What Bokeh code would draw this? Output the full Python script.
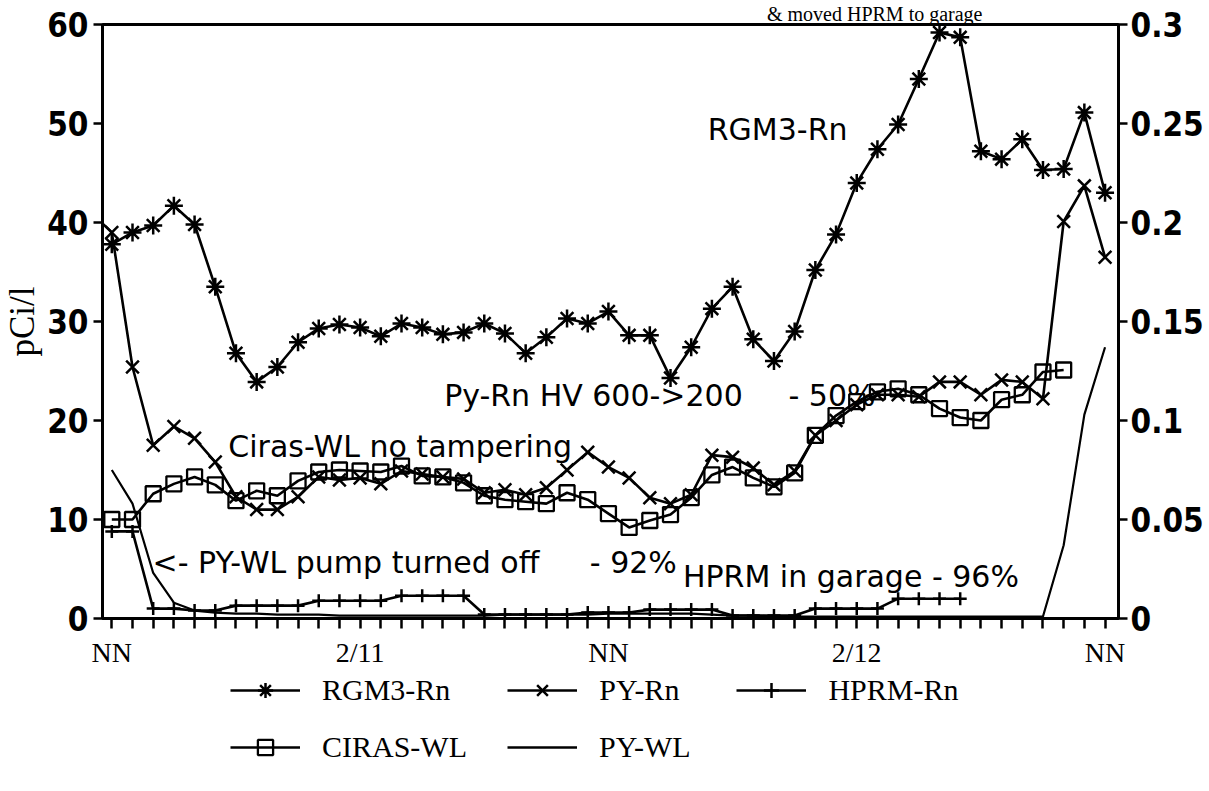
from bokeh.plotting import figure
from bokeh.layouts import column
from bokeh.models import Range1d, LinearAxis, FixedTicker, Label, Legend, LegendItem
from bokeh.embed import file_html
from bokeh.resources import INLINE

# ---------------- data ----------------
hours_rgm3 = list(range(0, 49))
rgm3_rn = [37.8, 39.0, 39.7, 41.7, 39.8, 33.5, 26.8, 23.9, 25.4, 27.9,
           29.3, 29.7, 29.4, 28.5, 29.8, 29.4, 28.7, 28.9, 29.8, 28.8,
           26.8, 28.4, 30.3, 29.8, 31.0, 28.6, 28.6, 24.3, 27.4, 31.3,
           33.5, 28.2, 26.0, 29.0, 35.2, 38.8, 44.0, 47.4, 49.9, 54.5,
           59.2, 58.7, 47.2, 46.4, 48.4, 45.3, 45.4, 51.1, 43.0]

hours_py_rn = list(range(-1, 49))
py_rn = [41.0, 39.0, 25.4, 17.5, 19.4, 18.2, 15.8, 12.3, 11.0, 11.0,
         12.3, 14.3, 14.0, 14.2, 13.6, 14.9, 14.6, 14.3, 14.1, 12.7,
         13.0, 12.5, 13.2, 15.0, 16.8, 15.3, 14.2, 12.2, 11.6, 12.5,
         16.5, 16.3, 15.2, 13.5, 14.9, 18.5, 20.0, 21.6, 22.6, 22.6,
         22.4, 23.9, 23.9, 22.6, 24.1, 23.9, 22.2, 40.1, 43.7, 36.5]

hours_hprm = list(range(0, 42))
hprm_rn = [8.8, 8.8, 1.0, 1.0, 0.8, 0.8, 1.3, 1.3, 1.3, 1.3,
           1.8, 1.8, 1.8, 1.8, 2.3, 2.3, 2.3, 2.3, 0.4, 0.4,
           0.4, 0.4, 0.4, 0.6, 0.6, 0.6, 0.9, 0.9, 0.9, 0.9,
           0.3, 0.3, 0.3, 0.3, 1.0, 1.0, 1.0, 1.0, 2.0, 2.0,
           2.0, 2.0]

hours_ciras = list(range(0, 47))
ciras_wl = [0.050, 0.050, 0.063, 0.068, 0.0715, 0.0675, 0.0595, 0.0645, 0.062, 0.0695,
            0.074, 0.075, 0.0745, 0.074, 0.077, 0.072, 0.0715, 0.0685, 0.062, 0.060,
            0.059, 0.058, 0.0635, 0.060, 0.053, 0.046, 0.0495, 0.0525, 0.061, 0.0725,
            0.0765, 0.071, 0.0665, 0.0735, 0.0925, 0.1025, 0.1095, 0.1145, 0.116, 0.113,
            0.106, 0.1015, 0.100, 0.1105, 0.113, 0.1245, 0.1255]

hours_py_wl = list(range(0, 49))
py_wl = [0.075, 0.058, 0.023, 0.008, 0.004, 0.003, 0.0025, 0.0025, 0.002, 0.002,
         0.002, 0.0015, 0.0015, 0.0015, 0.0015, 0.0015, 0.0015, 0.0015, 0.0015, 0.002,
         0.002, 0.002, 0.002, 0.002, 0.0025, 0.0025, 0.0025, 0.0025, 0.0025, 0.002,
         0.0015, 0.0015, 0.001, 0.001, 0.001, 0.001, 0.001, 0.001, 0.001, 0.001,
         0.001, 0.001, 0.001, 0.001, 0.001, 0.001, 0.037, 0.103, 0.137]

all_hours = list(range(0, 49))
tick_hours = [0, 12, 24, 36, 48]
tick_labels = ["NN", "2/11", "NN", "2/12", "NN"]
left_ticks = [0, 10, 20, 30, 40, 50, 60]
right_ticks = [0, 0.05, 0.1, 0.15, 0.2, 0.25, 0.3]
right_tick_labels = ["0", "0.05", "0.1", "0.15", "0.2", "0.25", "0.3"]

# ---------------- main figure ----------------
p = figure(width=1206, height=670, output_backend="svg", toolbar_location=None,
           x_range=Range1d(-0.45, 48.65), y_range=Range1d(0, 60),
           min_border_left=100, min_border_right=85, min_border_top=23,
           min_border_bottom=50)
p.extra_y_ranges = {"wl": Range1d(0, 0.3)}
p.xgrid.visible = False
p.ygrid.visible = False
p.outline_line_color = "black"
p.outline_line_width = 3
p.outline_line_alpha = 1
p.background_fill_color = "white"
p.border_fill_color = "white"

TICK_FONT = "Liberation Sans Narrow, DejaVu Sans Condensed, sans-serif"
SERIF = "Liberation Serif"

p.title.text = "& moved HPRM to garage"
p.title.text_font = SERIF
p.title.text_font_size = "20px"
p.title.text_font_style = "normal"
p.title.text_color = "black"
p.title.align = "right"
p.title.offset = 136
p.title.standoff = 0

xa = p.xaxis[0]
xa.ticker = FixedTicker(ticks=all_hours, minor_ticks=[])
ov = {h: "" for h in all_hours}
ov.update(dict(zip(tick_hours, tick_labels)))
xa.major_label_overrides = ov
xa.major_label_text_font = SERIF
xa.major_label_text_font_size = "28px"
xa.major_label_text_color = "black"
xa.major_label_standoff = 8
xa.major_tick_out = 10
xa.major_tick_in = 0
xa.major_tick_line_width = 2.5
xa.axis_line_width = 3

ya = p.yaxis[0]
ya.ticker = FixedTicker(ticks=left_ticks, minor_ticks=[])
ya.major_label_text_font = TICK_FONT
ya.major_label_text_font_style = "bold"
ya.major_label_text_font_size = "33px"
ya.major_label_text_color = "black"
ya.major_label_standoff = 5
ya.major_tick_out = 9
ya.major_tick_in = 0
ya.major_tick_line_width = 2.5
ya.axis_line_width = 3
ya.axis_label = "pCi/l"
ya.axis_label_text_font = SERIF
ya.axis_label_text_font_style = "normal"
ya.axis_label_text_font_size = "35px"
ya.axis_label_text_color = "black"
ya.axis_label_standoff = 2

ra = LinearAxis(y_range_name="wl", ticker=FixedTicker(ticks=right_ticks, minor_ticks=[]))
ra.major_label_overrides = dict(zip(right_ticks, right_tick_labels))
ra.major_label_text_font = TICK_FONT
ra.major_label_text_font_style = "bold"
ra.major_label_text_font_size = "33px"
ra.major_label_text_color = "black"
ra.major_label_standoff = 3
ra.major_tick_out = 9
ra.major_tick_in = 0
ra.major_tick_line_width = 2.5
ra.axis_line_width = 3
p.add_layout(ra, "right")

LW = 2.6
p.line(hours_rgm3, rgm3_rn, line_color="black", line_width=LW)
p.scatter(hours_rgm3, rgm3_rn, marker="asterisk", size=18, line_color="black", line_width=2.5)
p.line(hours_py_rn, py_rn, line_color="black", line_width=LW)
p.scatter(hours_py_rn, py_rn, marker="x", size=18, line_color="black", line_width=2.5)
p.line(hours_hprm, hprm_rn, line_color="black", line_width=LW)
p.scatter(hours_hprm, hprm_rn, marker="cross", size=13, line_color="black", line_width=2.5)
p.line(hours_ciras, ciras_wl, line_color="black", line_width=LW, y_range_name="wl")
p.scatter(hours_ciras, ciras_wl, marker="square", size=15, line_color="black",
          fill_alpha=0, line_width=2.3, y_range_name="wl")
p.line(hours_py_wl, py_wl, line_color="black", line_width=2.2, y_range_name="wl")

# ---------------- annotations ----------------
ANN_FONT = "DejaVu Sans"
ann = [
    ("RGM3-Rn", 28.8, 49.4),
    ("Py-Rn HV 600->200", 16.06, 22.5),
    ("- 50%", 32.7, 22.5),
    ("Ciras-WL no tampering", 5.63, 17.4),
    ("<- PY-WL pump turned off", 1.97, 5.7),
    ("- 92%", 23.1, 5.7),
    ("HPRM in garage  - 96%", 27.6, 4.2),
]
for txt, x, y in ann:
    p.add_layout(Label(x=x, y=y, text=txt, text_font=ANN_FONT, text_font_size="30px",
                       text_baseline="middle", text_align="left", text_color="black"))

# ---------------- legend strip (keys only; nothing plotted) ----------------
q = figure(width=1206, height=115, output_backend="svg", toolbar_location=None,
           x_axis_type=None, y_axis_type=None, x_range=Range1d(0, 1), y_range=Range1d(0, 1),
           min_border_left=0, min_border_right=0, min_border_top=0, min_border_bottom=0)
q.outline_line_color = None
q.xgrid.visible = False
q.ygrid.visible = False
q.background_fill_color = "white"
q.border_fill_color = "white"

NAN = [float("nan")]

def key(marker=None, size=15, lw=2.5):
    rs = [q.line(NAN, NAN, line_color="black", line_width=LW)]
    if marker:
        rs.append(q.scatter(NAN, NAN, marker=marker, size=size, line_color="black",
                            fill_alpha=0, line_width=lw))
    return rs

k1 = key("asterisk", 18)
k2 = key("x", 18)
k3 = key("cross", 14)
k4 = key("square", 15, 2.3)
k5 = key(None)

def make_legend(items, loc, spacing):
    return Legend(items=items, location=loc, orientation="horizontal",
                  glyph_width=70, glyph_height=38, label_height=38, label_standoff=22,
                  spacing=spacing, padding=0, margin=0, border_line_alpha=0,
                  background_fill_alpha=0, label_text_font=SERIF,
                  label_text_font_size="30px", label_text_color="black")

leg1 = make_legend([LegendItem(label="RGM3-Rn", renderers=k1),
                    LegendItem(label="PY-Rn", renderers=k2),
                    LegendItem(label="HPRM-Rn", renderers=k3)], (128, 76), 57)
leg2 = make_legend([LegendItem(label="CIRAS-WL", renderers=k4),
                    LegendItem(label="PY-WL", renderers=k5)], (128, 19), 40)
q.add_layout(leg1)
q.add_layout(leg2)

layout = column(p, q, spacing=0)
open("out.html", "w").write(file_html(layout, INLINE))
